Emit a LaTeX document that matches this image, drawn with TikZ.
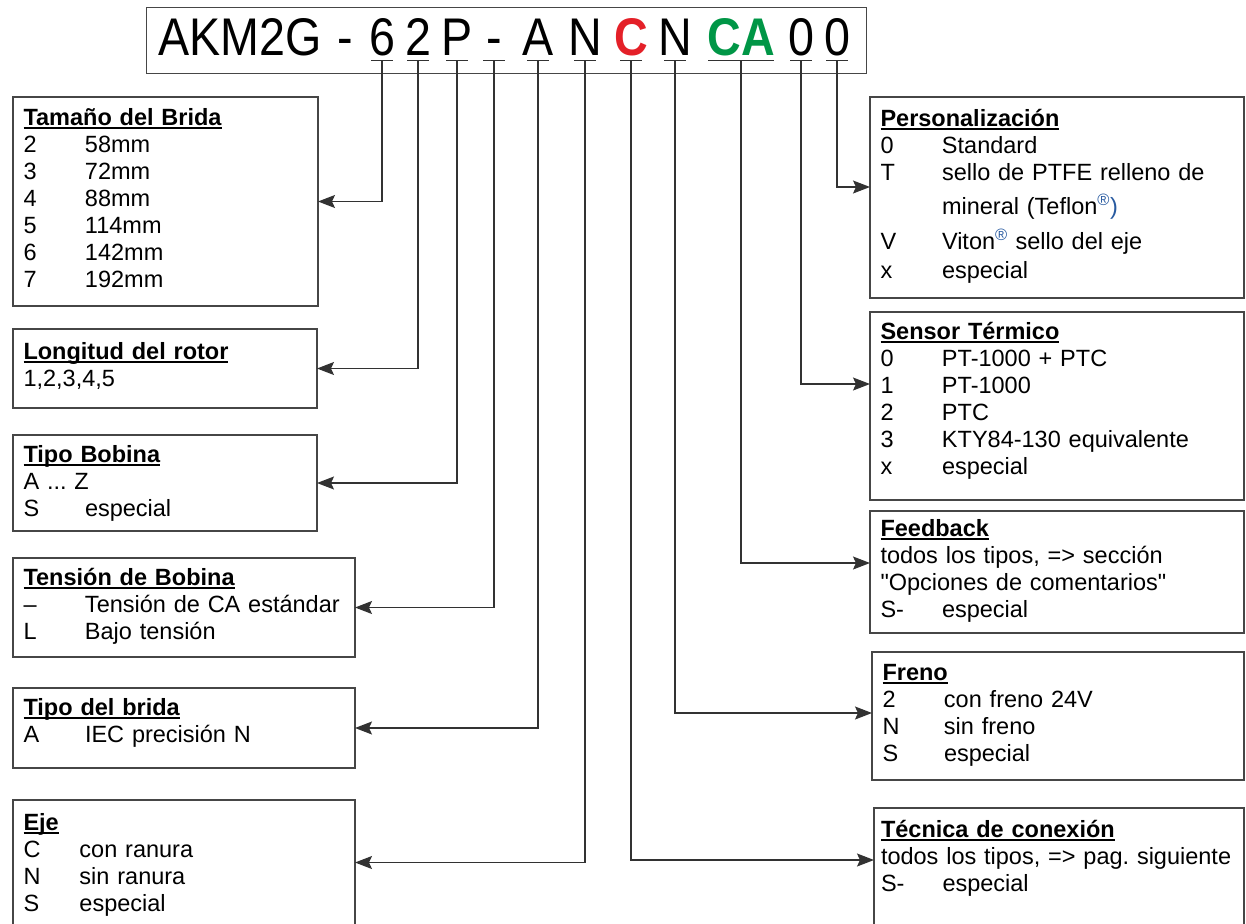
\documentclass[tikz,border=0pt]{standalone}
\usepackage{fontspec}
\setmainfont{Liberation Sans}[Ligatures=TeXOff]
\newfontfamily\codefamily[FakeStretch=0.88]{Liberation Sans}
\usepackage{xcolor}
\usetikzlibrary{arrows.meta, positioning}
\frenchspacing

\definecolor{boxline}{RGB}{70,70,70}
\definecolor{wirecol}{RGB}{50,50,50}
\definecolor{codered}{RGB}{228,32,40}
\definecolor{codegreen}{RGB}{0,150,70}
\definecolor{regblue}{RGB}{40,90,160}

\newcommand{\boxfont}{\fontsize{23.5}{27}\selectfont}
\newcommand{\codefont}{\codefamily\fontsize{53}{60}\selectfont}
\newcommand{\ttl}[1]{\setbox0\hbox{\bfseries #1}\rlap{\rule[-3.5pt]{\wd0}{1.6pt}}\box0}
\newcommand{\opt}[2]{\makebox[61.5pt][l]{#1}#2}
\newcommand{\reg}{{\color{regblue}\textsuperscript{®}}}

\tikzset{
  infobox/.style={draw=boxline, line width=1.3pt, inner xsep=10.5pt, inner ysep=0pt,
    outer sep=0pt, align=left, font=\boxfont, text height=28.5pt, anchor=north west},
  codechar/.style={font=\codefont, inner sep=0pt, anchor=base, text depth=4pt},
  wire/.style={draw=wirecol, line width=1.3pt},
  arrow/.style={wire, -{Stealth[length=17pt, width=13pt, inset=3pt]}},
}

\begin{document}
\begin{tikzpicture}[x=1pt, y=1pt]
\useasboundingbox (0,0) rectangle (1246,-923);
\clip (0,0) rectangle (1246,-923);

% type key
\node[draw=boxline, line width=1.3pt, minimum width=720pt, minimum height=66pt,
  inner sep=0pt, anchor=north west] (code) at (146,-7) {};
\node[codechar] (cAKM) at (240,-56) {AKM2G};
\node[codechar] (cd1) at (345,-56) {-};
\node[codechar] (c6) at (382,-56) {6};
\node[codechar] (c2) at (418,-56) {2};
\node[codechar] (cP) at (457,-56) {P};
\node[codechar] (cd2) at (494,-56) {-};
\node[codechar] (cA) at (538,-56) {A};
\node[codechar] (cN1) at (585,-56) {N};
\node[codechar, text=codered] (cC) at (631,-56) {\bfseries C};
\node[codechar] (cN2) at (675,-56) {N};
\node[codechar, text=codegreen] (cCA) at (741,-56) {\bfseries CA};
\node[codechar] (c01) at (801,-56) {0};
\node[codechar] (c02) at (837,-56) {0};

% left column
\node[infobox, text width=284pt, text depth=180.5pt] (flange) at (13,-97)
  {\ttl{Tamaño del Brida}\\ \opt{2}{58mm}\\ \opt{3}{72mm}\\ \opt{4}{88mm}\\
   \opt{5}{114mm}\\ \opt{6}{142mm}\\ \opt{7}{192mm}};
\node[infobox, below=23pt of flange.south west, anchor=north west,
  text width=283pt, text height=30.5pt, text depth=48.5pt] (rotor)
  {\ttl{Longitud del rotor}\\ 1,2,3,4,5};
\node[infobox, below=27pt of rotor.south west, anchor=north west,
  text width=283pt, text height=27.5pt, text depth=68.5pt] (coil)
  {\ttl{Tipo Bobina}\\ A ... Z\\ \opt{S}{especial}};
\node[infobox, below=27pt of coil.south west, anchor=north west,
  text width=321pt, text height=27.5pt, text depth=71.5pt] (volt)
  {\ttl{Tensión de Bobina}\\ \opt{–}{Tensión de CA estándar}\\ \opt{L}{Bajo tensión}};
\node[infobox, below=31pt of volt.south west, anchor=north west,
  text width=321pt, text height=27.5pt, text depth=52.5pt] (mount)
  {\ttl{Tipo del brida}\\ \opt{A}{IEC precisión N}};
\node[infobox, below=32pt of mount.south west, anchor=north west,
  text width=321pt, text height=30.5pt, text depth=94.5pt] (shaft)
  {\ttl{Eje}\\ \makebox[56pt][l]{C}con ranura\\ \makebox[56pt][l]{N}sin ranura\\
   \makebox[56pt][l]{S}especial};

% right column
\node[infobox, text width=353pt, text height=29.5pt, text depth=171.5pt] (custom) at (870,-97)
  {\ttl{Personalización}\\ \opt{0}{Standard}\\ \opt{T}{sello de PTFE relleno de}\\[7pt]
   \opt{}{mineral (Teflon{\color{regblue}\textsuperscript{®})}}\\[8pt]
   \opt{V}{Viton\reg{} sello del eje}\\[2pt] \opt{x}{especial}};
\node[infobox, below=14pt of custom.south west, anchor=north west,
  text width=353pt, text height=27.5pt, text depth=160.5pt] (sensor)
  {\ttl{Sensor Térmico}\\ \opt{0}{PT-1000 + PTC}\\ \opt{1}{PT-1000}\\ \opt{2}{PTC}\\
   \opt{3}{KTY84-130 equivalente}\\ \opt{x}{especial}};
\node[infobox, below=11pt of sensor.south west, anchor=north west,
  text width=353pt, text height=25.5pt, text depth=96.5pt] (fback)
  {\ttl{Feedback}\\ todos los tipos, => sección\\ "Opciones de comentarios"\\
   \opt{S-}{especial}};
\node[infobox, below=19pt of fback.south west, anchor=north west, xshift=2pt,
  text width=351pt, text depth=99.5pt] (brake)
  {\ttl{Freno}\\ \opt{2}{con freno 24V}\\ \opt{N}{sin freno}\\ \opt{S}{especial}};
\node[infobox, below=28pt of brake.south west, anchor=north west, xshift=2pt, inner xsep=7pt,
  text width=356pt, text height=29.5pt, text depth=95.5pt] (conn)
  {\ttl{Técnica de conexión}\\ \mbox{todos los tipos, => pag. siguiente}\\ \opt{S-}{especial}};

% marks under the key
\foreach \c in {c6,c2,cP,cd2,cA,cN1,cC,cN2,c01,c02}
  \draw[wire] ([xshift=-11pt]\c.south) -- ([xshift=11pt]\c.south);
\draw[wire] ([xshift=-33pt]cCA.south) -- ([xshift=33pt]cCA.south);

% leaders
\draw[arrow] (c6.south) |- (flange.east);
\draw[arrow] (c2.south) |- (rotor.east);
\draw[arrow] (cP.south) |- (coil.east);
\draw[arrow] (cd2.south) |- (volt.east);
\draw[arrow] (cA.south) |- (mount.east);
\draw[arrow] (cN1.south) |- (shaft.east);
\draw[arrow] (cC.south) |- ([yshift=-52pt]conn.north west);
\draw[arrow] (cN2.south) |- ([yshift=-61pt]brake.north west);
\draw[arrow] (cCA.south) |- ([yshift=-52pt]fback.north west);
\draw[arrow] (c01.south) |- ([yshift=-72pt]sensor.north west);
\draw[arrow] (c02.south) |- ([yshift=-90pt]custom.north west);

\end{tikzpicture}
\end{document}
